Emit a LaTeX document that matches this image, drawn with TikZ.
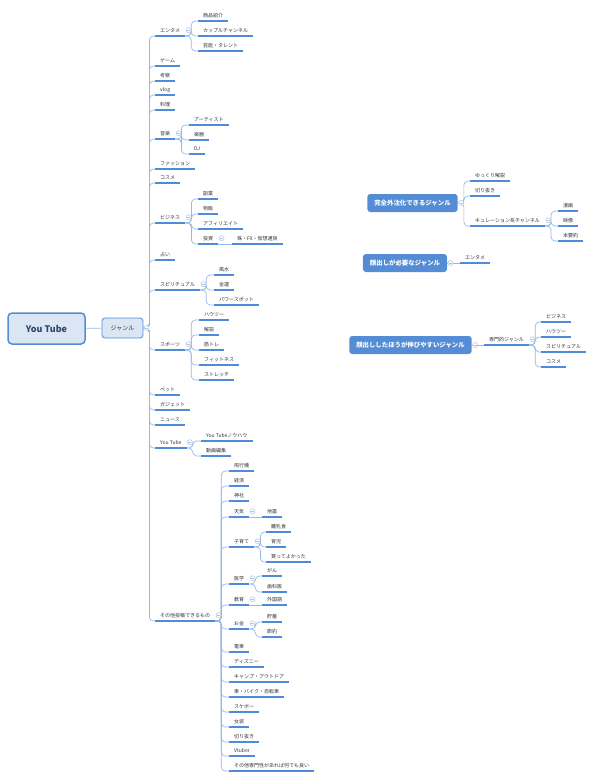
\documentclass[tikz,border=0pt]{standalone}
\usepackage{fontspec}
\setmainfont{Noto Sans CJK JP}
\usetikzlibrary{positioning}
\definecolor{uline}{RGB}{79,139,219}
\definecolor{conn}{RGB}{150,185,230}
\definecolor{mainblue}{RGB}{84,141,214}
\definecolor{rootfill}{RGB}{219,230,245}
\definecolor{foldgray}{RGB}{175,196,226}
\definecolor{txt}{RGB}{51,51,51}
\definecolor{roottxt}{RGB}{45,70,110}

\tikzset{
  topic/.style={anchor=south west, inner xsep=5pt, inner ysep=3pt, text=txt,
    font=\fontsize{5}{6}\selectfont, text height=4.4pt, text depth=0.8pt},
  underl/.style={draw=uline, line width=1.3pt},
  linkline/.style={draw=conn, line width=0.7pt, rounded corners=4pt},
  foldbtn/.style={circle, draw=foldgray, fill=white, line width=0.5pt, minimum size=5pt, inner sep=0pt,
    path picture={\draw[foldgray, line width=0.5pt] ([xshift=-1.4pt]path picture bounding box.center) -- ([xshift=1.4pt]path picture bounding box.center);}},
  rootbox/.style={draw=mainblue, line width=1.5pt, fill=rootfill, rounded corners=4pt, minimum width=77pt,
    minimum height=31pt, text=roottxt, font=\bfseries\fontsize{9}{10}\selectfont},
  genrebox/.style={draw=uline, line width=0.8pt, fill=rootfill, rounded corners=3pt, minimum width=41pt,
    minimum height=20pt, text=txt, font=\fontsize{6}{7}\selectfont},
  catbox/.style={fill=mainblue, rounded corners=3pt, text=white, inner xsep=7pt, minimum height=18pt,
    font=\bfseries\fontsize{6.4}{7.5}\selectfont}
}

\begin{document}
\begin{tikzpicture}[x=1pt, y=-1pt]
  \useasboundingbox (0,0) rectangle (597,779);

  % root and genre
  \node[rootbox] (root) at (46.5,328.5) {You Tube};
  \node[genrebox] (genre) at (122.5,328) {ジャンル};
  \draw[linkline] (root) -- (genre);

  % first level
  \node[topic] (enta) at (155,36) {エンタメ};
  \node[topic] (game) at (155,66) {ゲーム};
  \node[topic] (kousatsu) at (155,81) {考察};
  \node[topic] (vlog) at (155,95) {vlog};
  \node[topic] (ryouri) at (155,110) {料理};
  \node[topic] (ongaku) at (155,139) {音楽};
  \node[topic] (fashion) at (155,169) {ファッション};
  \node[topic] (cosme) at (155,183) {コスメ};
  \node[topic] (biz) at (155,223) {ビジネス};
  \node[topic] (uranai) at (155,260) {占い};
  \node[topic] (spirit) at (155,290) {スピリチュアル};
  \node[topic] (sports) at (155,350) {スポーツ};
  \node[topic] (pet) at (155,395) {ペット};
  \node[topic] (gadget) at (155,410) {ガジェット};
  \node[topic] (news) at (155,425) {ニュース};
  \node[topic] (yt) at (155,448) {You Tube};
  \node[topic] (sonota) at (155,621) {その他投稿できるもの};

  % entame
  \node[topic] (shohin) at (198,21) {商品紹介};
  \node[topic] (couple) at (198,36) {カップルチャンネル};
  \node[topic] (geino) at (198,51) {芸能・タレント};
  % ongaku
  \node[topic] (artist) at (189,125) {アーティスト};
  \node[topic] (gakki) at (189,140) {楽器};
  \node[topic] (dj) at (189,154) {DJ};
  % business
  \node[topic] (fukugyo) at (198,199) {副業};
  \node[topic] (buppan) at (198,214) {物販};
  \node[topic] (affili) at (198,229) {アフィリエイト};
  \node[topic] (toushi) at (198,244) {投資};
  \node[topic] (kabu) at (232,244) {株・FX・仮想通貨};
  % spiritual
  \node[topic] (fusui) at (214,275) {風水};
  \node[topic] (kinun) at (214,290) {金運};
  \node[topic] (power) at (214,305) {パワースポット};
  % sports
  \node[topic] (howto) at (199,320) {ハウツー};
  \node[topic] (kaisetsu) at (199,335) {解説};
  \node[topic] (kintore) at (199,350) {筋トレ};
  \node[topic] (fitness) at (199,365) {フィットネス};
  \node[topic] (stretch) at (199,380) {ストレッチ};
  % youtube
  \node[topic] (knowhow) at (201,441) {You Tubeノウハウ};
  \node[topic] (henshu) at (201,456) {動画編集};

  % sonota
  \node[topic] (hikouki) at (229,471) {飛行機};
  \node[topic] (keizai) at (229,486) {経済};
  \node[topic] (jinja) at (229,501) {神社};
  \node[topic] (tenki) at (229,517) {天気};
  \node[topic] (kosodate) at (229,547) {子育て};
  \node[topic] (igaku) at (229,584) {医学};
  \node[topic] (kyouiku) at (229,605) {教育};
  \node[topic] (okane) at (229,629) {お金};
  \node[topic] (densha) at (229,652) {電車};
  \node[topic] (disney) at (229,667) {ディズニー};
  \node[topic] (camp) at (229,682) {キャンプ・アウトドア};
  \node[topic] (kuruma) at (229,697) {車・バイク・自転車};
  \node[topic] (skebo) at (229,712) {スケボー};
  \node[topic] (josou) at (229,727) {女装};
  \node[topic] (kirinuki) at (229,742) {切り抜き};
  \node[topic] (vtuber) at (229,756) {Vtuber};
  \node[topic] (senmon) at (229,771) {その他専門性があれば何でも良い};

  \node[topic] (jishin) at (262,517) {地震};
  \node[topic] (rinyu) at (266,532) {離乳食};
  \node[topic] (ikuji) at (266,547) {育児};
  \node[topic] (katte) at (266,562) {買ってよかった};
  \node[topic] (gan) at (262,576) {がん};
  \node[topic] (shika) at (262,592) {歯科医};
  \node[topic] (gaikoku) at (262,605) {外国語};
  \node[topic] (chochiku) at (262,622) {貯蓄};
  \node[topic] (setsuyaku) at (262,637) {節約};

  % right side
  \node[catbox] (kanzen) at (412.5,203) {完全外注化できるジャンル};
  \node[topic] (yukkuri) at (470,181) {ゆっくり解説};
  \node[topic] (kirinuki2) at (470,196) {切り抜き};
  \node[topic] (curation) at (470,226) {キュレーション系チャンネル};
  \node[topic] (manga) at (558,211) {漫画};
  \node[topic] (eizo) at (558,226) {映像};
  \node[topic] (honyoyaku) at (558,241) {本要約};

  \node[catbox] (kaodashi) at (405,263) {顔出しが必要なジャンル};
  \node[topic] (enta2) at (460,263) {エンタメ};

  \node[catbox] (nobiru) at (410.5,345) {顔出ししたほうが伸びやすいジャンル};
  \node[topic] (senmonteki) at (484,345) {専門的ジャンル};
  \node[topic] (biz2) at (541,322) {ビジネス};
  \node[topic] (howto2) at (541,337) {ハウツー};
  \node[topic] (spirit2) at (541,352) {スピリチュアル};
  \node[topic] (cosme2) at (541,367) {コスメ};

  % connectors
  \foreach \c in {enta,game,kousatsu,vlog,ryouri,ongaku,fashion,cosme,biz,uranai,spirit,sports,pet,gadget,news,yt,sonota}
    \draw[linkline] (genre.east) -- ++(6,0) |- (\c.south west);
  \foreach \p/\c in {enta/shohin,enta/couple,enta/geino,ongaku/artist,ongaku/gakki,ongaku/dj,
      biz/fukugyo,biz/buppan,biz/affili,biz/toushi,spirit/fusui,spirit/kinun,spirit/power,
      sports/howto,sports/kaisetsu,sports/kintore,sports/fitness,sports/stretch,yt/knowhow,yt/henshu,
      sonota/hikouki,sonota/keizai,sonota/jinja,sonota/tenki,sonota/kosodate,sonota/igaku,sonota/kyouiku,
      sonota/okane,sonota/densha,sonota/disney,sonota/camp,sonota/kuruma,sonota/skebo,sonota/josou,
      sonota/kirinuki,sonota/vtuber,sonota/senmon,kosodate/rinyu,kosodate/ikuji,kosodate/katte,
      igaku/gan,igaku/shika,okane/chochiku,okane/setsuyaku,curation/manga,curation/eizo,curation/honyoyaku,
      senmonteki/biz2,senmonteki/howto2,senmonteki/spirit2,senmonteki/cosme2}
    \draw[linkline] (\p.south east) -- ++(6,0) |- (\c.south west);
  \foreach \c in {yukkuri,kirinuki2,curation}
    \draw[linkline] (kanzen.east) -- ++(6,0) |- (\c.south west);
  \draw[linkline] (toushi.south east) -- (kabu.south west);
  \draw[linkline] (tenki.south east) -- (jishin.south west);
  \draw[linkline] (kyouiku.south east) -- (gaikoku.south west);
  \draw[linkline] (kaodashi.east) -- (enta2.south west);
  \draw[linkline] (nobiru.east) -- (senmonteki.south west);

  % underlines
  \foreach \n in {enta,game,kousatsu,vlog,ryouri,ongaku,fashion,cosme,biz,uranai,spirit,sports,pet,gadget,news,yt,sonota,
      shohin,couple,geino,artist,gakki,dj,fukugyo,buppan,affili,toushi,kabu,fusui,kinun,power,
      howto,kaisetsu,kintore,fitness,stretch,knowhow,henshu,hikouki,keizai,jinja,tenki,kosodate,igaku,kyouiku,
      okane,densha,disney,camp,kuruma,skebo,josou,kirinuki,vtuber,senmon,jishin,rinyu,ikuji,katte,gan,shika,
      gaikoku,chochiku,setsuyaku,yukkuri,kirinuki2,curation,manga,eizo,honyoyaku,enta2,senmonteki,
      biz2,howto2,spirit2,cosme2}
    \draw[underl] (\n.south west) -- (\n.south east);

  % fold buttons
  \foreach \n in {genre,kanzen,kaodashi,nobiru}
    \node[foldbtn, right=0.5pt of \n] {};
  \foreach \n in {enta,ongaku,biz,toushi,spirit,sports,yt,sonota,tenki,kosodate,igaku,kyouiku,okane,curation,senmonteki}
    \node[foldbtn, right=0.5pt of \n] {};
\end{tikzpicture}
\end{document}
